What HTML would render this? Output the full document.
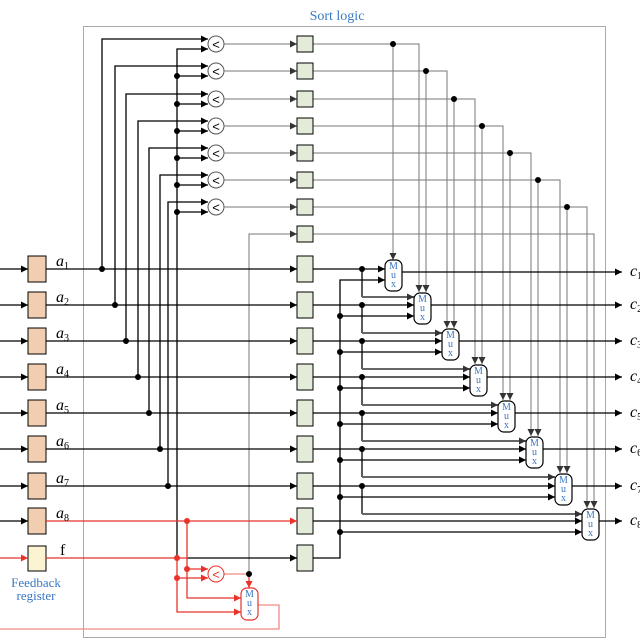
<!DOCTYPE html>
<html><head><meta charset="utf-8"><style>html,body{margin:0;padding:0;background:#fff}svg{display:block}</style></head>
<body>
<svg width="640" height="639" viewBox="0 0 640 639" xmlns="http://www.w3.org/2000/svg" font-family="Liberation Serif, serif">
<defs>
<marker id="a" markerUnits="userSpaceOnUse" markerWidth="8" markerHeight="8" refX="7" refY="4" orient="auto"><path d="M0,0.5 L7,4 L0,7.5z" fill="#000"/></marker>
<marker id="g" markerUnits="userSpaceOnUse" markerWidth="8" markerHeight="8" refX="7" refY="4" orient="auto"><path d="M0,0.5 L7,4 L0,7.5z" fill="#333"/></marker>
<marker id="r" markerUnits="userSpaceOnUse" markerWidth="8" markerHeight="8" refX="7" refY="4" orient="auto"><path d="M0,0.5 L7,4 L0,7.5z" fill="#e8322a"/></marker>
</defs>
<rect x="83.5" y="26.5" width="522" height="611" fill="none" stroke="#aaa"/>
<text x="337" y="20" font-size="14" fill="#3a78c2" text-anchor="middle">Sort logic</text>

<!-- comparator input lines -->
<g fill="none" stroke="#000" stroke-width="1.3">
<path d="M102,269V39H208" marker-end="url(#a)"/>
<path d="M115,305V66H208" marker-end="url(#a)"/>
<path d="M126,341V94H208" marker-end="url(#a)"/>
<path d="M138,377V121H208" marker-end="url(#a)"/>
<path d="M149,413V148H208" marker-end="url(#a)"/>
<path d="M160,449V175H208" marker-end="url(#a)"/>
<path d="M168,486V202H208" marker-end="url(#a)"/>
<path d="M177,558V49H208" marker-end="url(#a)"/>
<path d="M177,76H208" marker-end="url(#a)"/>
<path d="M177,104H208" marker-end="url(#a)"/>
<path d="M177,131H208" marker-end="url(#a)"/>
<path d="M177,158H208" marker-end="url(#a)"/>
<path d="M177,185H208" marker-end="url(#a)"/>
<path d="M177,212H208" marker-end="url(#a)"/>
</g>
<g fill="#000">
<circle cx="177" cy="76" r="3"/><circle cx="177" cy="104" r="3"/><circle cx="177" cy="131" r="3"/><circle cx="177" cy="158" r="3"/><circle cx="177" cy="185" r="3"/><circle cx="177" cy="212" r="3"/>
<circle cx="102" cy="269" r="3"/><circle cx="115" cy="305" r="3"/><circle cx="126" cy="341" r="3"/><circle cx="138" cy="377" r="3"/><circle cx="149" cy="413" r="3"/><circle cx="160" cy="449" r="3"/><circle cx="168" cy="486" r="3"/>
</g>

<!-- comparators -->
<g fill="#fff" stroke="#555" stroke-width="1">
<circle cx="216" cy="44" r="8"/><circle cx="216" cy="71" r="8"/><circle cx="216" cy="99" r="8"/><circle cx="216" cy="126" r="8"/><circle cx="216" cy="153" r="8"/><circle cx="216" cy="180" r="8"/><circle cx="216" cy="207" r="8"/>
</g>
<g font-size="13" text-anchor="middle" fill="#000" font-family="Liberation Sans, sans-serif">
<text x="216" y="49">&lt;</text><text x="216" y="76">&lt;</text><text x="216" y="104">&lt;</text><text x="216" y="131">&lt;</text><text x="216" y="158">&lt;</text><text x="216" y="185">&lt;</text><text x="216" y="212">&lt;</text>
</g>
<g fill="none" stroke="#777" stroke-width="1">
<path d="M224,44H297" marker-end="url(#g)"/><path d="M224,71H297" marker-end="url(#g)"/><path d="M224,99H297" marker-end="url(#g)"/><path d="M224,126H297" marker-end="url(#g)"/><path d="M224,153H297" marker-end="url(#g)"/><path d="M224,180H297" marker-end="url(#g)"/><path d="M224,207H297" marker-end="url(#g)"/>
<path d="M249,574V234H297" marker-end="url(#g)"/>
<!-- green outputs to muxes -->
<path d="M313,44H419V292" marker-end="url(#g)"/><path d="M393,44V260" marker-end="url(#g)"/>
<path d="M313,71H447V328" marker-end="url(#g)"/><path d="M426,71V292" marker-end="url(#g)"/>
<path d="M313,99H475V364" marker-end="url(#g)"/><path d="M454,99V328" marker-end="url(#g)"/>
<path d="M313,126H503V400" marker-end="url(#g)"/><path d="M482,126V364" marker-end="url(#g)"/>
<path d="M313,153H531V436" marker-end="url(#g)"/><path d="M510,153V400" marker-end="url(#g)"/>
<path d="M313,180H560V473" marker-end="url(#g)"/><path d="M538,180V436" marker-end="url(#g)"/>
<path d="M313,207H587V508" marker-end="url(#g)"/><path d="M567,207V473" marker-end="url(#g)"/>
<path d="M313,234H594V508" marker-end="url(#g)"/>
</g>
<g fill="#000">
<circle cx="393" cy="44" r="3"/><circle cx="426" cy="71" r="3"/><circle cx="454" cy="99" r="3"/><circle cx="482" cy="126" r="3"/><circle cx="510" cy="153" r="3"/><circle cx="538" cy="180" r="3"/><circle cx="567" cy="207" r="3"/>
</g>
<g fill="#e3ecd9" stroke="#000" stroke-width="1">
<rect x="297" y="36" width="16" height="16"/><rect x="297" y="63" width="16" height="16"/><rect x="297" y="91" width="16" height="16"/><rect x="297" y="118" width="16" height="16"/><rect x="297" y="145" width="16" height="16"/><rect x="297" y="172" width="16" height="16"/><rect x="297" y="199" width="16" height="16"/><rect x="297" y="226" width="16" height="16"/>
</g>

<!-- rows -->
<g fill="none" stroke="#000" stroke-width="1.3">
<path d="M0,269H28" marker-end="url(#a)"/><path d="M0,305H28" marker-end="url(#a)"/><path d="M0,341H28" marker-end="url(#a)"/><path d="M0,377H28" marker-end="url(#a)"/><path d="M0,413H28" marker-end="url(#a)"/><path d="M0,449H28" marker-end="url(#a)"/><path d="M0,486H28" marker-end="url(#a)"/><path d="M0,521H28" marker-end="url(#a)"/>
<path d="M46,269H297" marker-end="url(#a)"/><path d="M46,305H297" marker-end="url(#a)"/><path d="M46,341H297" marker-end="url(#a)"/><path d="M46,377H297" marker-end="url(#a)"/><path d="M46,413H297" marker-end="url(#a)"/><path d="M46,449H297" marker-end="url(#a)"/><path d="M46,486H297" marker-end="url(#a)"/>
<path d="M187,558H297" marker-end="url(#a)"/>
<!-- green to mux middle -->
<path d="M313,269H385" marker-end="url(#a)"/><path d="M313,305H414" marker-end="url(#a)"/><path d="M313,341H442" marker-end="url(#a)"/><path d="M313,377H470" marker-end="url(#a)"/><path d="M313,413H498" marker-end="url(#a)"/><path d="M313,449H526" marker-end="url(#a)"/><path d="M313,486H555" marker-end="url(#a)"/><path d="M313,521H582" marker-end="url(#a)"/>
<!-- f bus -->
<path d="M313,558H340V280H385" marker-end="url(#a)"/>
<path d="M340,316H414" marker-end="url(#a)"/><path d="M340,352H442" marker-end="url(#a)"/><path d="M340,388H470" marker-end="url(#a)"/><path d="M340,424H498" marker-end="url(#a)"/><path d="M340,460H526" marker-end="url(#a)"/><path d="M340,497H555" marker-end="url(#a)"/><path d="M340,532H582" marker-end="url(#a)"/>
<!-- mux outputs -->
<path d="M402,272H622" marker-end="url(#a)"/><path d="M431,305H622" marker-end="url(#a)"/><path d="M459,341H622" marker-end="url(#a)"/><path d="M487,377H622" marker-end="url(#a)"/><path d="M515,413H622" marker-end="url(#a)"/><path d="M543,449H622" marker-end="url(#a)"/><path d="M572,486H622" marker-end="url(#a)"/><path d="M599,521H622" marker-end="url(#a)"/>
<!-- row dots down to next mux -->
<path d="M362,269V297"/><path d="M362,305V333"/><path d="M362,341V369"/><path d="M362,377V405"/><path d="M362,413V441"/><path d="M362,449V477"/><path d="M362,486V514"/>
</g>
<g fill="none" stroke="#666" stroke-width="2">
<path d="M362,297H414" marker-end="url(#g)"/><path d="M362,333H442" marker-end="url(#g)"/><path d="M362,369H470" marker-end="url(#g)"/><path d="M362,405H498" marker-end="url(#g)"/><path d="M362,441H526" marker-end="url(#g)"/><path d="M362,477H555" marker-end="url(#g)"/><path d="M362,514H582" marker-end="url(#g)"/>
</g>
<g fill="#000">
<circle cx="362" cy="269" r="3"/><circle cx="362" cy="305" r="3"/><circle cx="362" cy="341" r="3"/><circle cx="362" cy="377" r="3"/><circle cx="362" cy="413" r="3"/><circle cx="362" cy="449" r="3"/><circle cx="362" cy="486" r="3"/>
<circle cx="340" cy="316" r="3"/><circle cx="340" cy="352" r="3"/><circle cx="340" cy="388" r="3"/><circle cx="340" cy="424" r="3"/><circle cx="340" cy="460" r="3"/><circle cx="340" cy="497" r="3"/><circle cx="340" cy="532" r="3"/>
</g>

<!-- registers -->
<g fill="#f2ceb0" stroke="#000" stroke-width="1">
<rect x="28" y="256" width="18" height="26"/><rect x="28" y="292" width="18" height="26"/><rect x="28" y="328" width="18" height="26"/><rect x="28" y="364" width="18" height="26"/><rect x="28" y="400" width="18" height="26"/><rect x="28" y="436" width="18" height="26"/><rect x="28" y="473" width="18" height="26"/><rect x="28" y="508" width="18" height="26"/>
</g>
<rect x="28" y="546" width="18" height="25" fill="#fbf3d2" stroke="#000"/>
<g fill="#e3ecd9" stroke="#000" stroke-width="1">
<rect x="297" y="256" width="16" height="26"/><rect x="297" y="292" width="16" height="26"/><rect x="297" y="328" width="16" height="26"/><rect x="297" y="364" width="16" height="26"/><rect x="297" y="400" width="16" height="26"/><rect x="297" y="436" width="16" height="26"/><rect x="297" y="473" width="16" height="26"/><rect x="297" y="508" width="16" height="26"/><rect x="297" y="545" width="16" height="26"/>
</g>

<!-- muxes -->
<g fill="#fff" stroke="#000" stroke-width="1.2">
<rect x="385" y="260" width="17" height="31" rx="6"/><rect x="414" y="293" width="17" height="31" rx="6"/><rect x="442" y="329" width="17" height="31" rx="6"/><rect x="470" y="365" width="17" height="31" rx="6"/><rect x="498" y="401" width="17" height="31" rx="6"/><rect x="526" y="437" width="17" height="31" rx="6"/><rect x="555" y="474" width="17" height="31" rx="6"/><rect x="582" y="509" width="17" height="31" rx="6"/>
</g>
<g font-size="10" fill="#3a78c2" text-anchor="middle">
<text x="393.5" y="269">M</text><text x="393.5" y="278">u</text><text x="393.5" y="287">x</text>
<text x="422.5" y="302">M</text><text x="422.5" y="311">u</text><text x="422.5" y="320">x</text>
<text x="450.5" y="338">M</text><text x="450.5" y="347">u</text><text x="450.5" y="356">x</text>
<text x="478.5" y="374">M</text><text x="478.5" y="383">u</text><text x="478.5" y="392">x</text>
<text x="506.5" y="410">M</text><text x="506.5" y="419">u</text><text x="506.5" y="428">x</text>
<text x="534.5" y="446">M</text><text x="534.5" y="455">u</text><text x="534.5" y="464">x</text>
<text x="563.5" y="483">M</text><text x="563.5" y="492">u</text><text x="563.5" y="501">x</text>
<text x="590.5" y="518">M</text><text x="590.5" y="527">u</text><text x="590.5" y="536">x</text>
<text x="249.5" y="597">M</text><text x="249.5" y="606">u</text><text x="249.5" y="615">x</text>
</g>

<!-- red section -->
<g fill="none" stroke="#e8322a" stroke-width="1.3">
<path d="M0,558H28" marker-end="url(#r)"/>
<path d="M46,558H187"/>
<path d="M46,521H297" marker-end="url(#r)"/>
<path d="M187,521V598H241" marker-end="url(#r)"/>
<path d="M187,569H208" marker-end="url(#r)"/>
<path d="M177,558V612H241" marker-end="url(#r)"/>
<path d="M177,578H208" marker-end="url(#r)"/>
<path d="M249,574V588" marker-end="url(#r)"/>
</g>
<g fill="none" stroke="#f08a84" stroke-width="1.3">
<path d="M224,574H249"/>
<path d="M258,605H279V629H0"/>
</g>
<circle cx="216" cy="574" r="8" fill="#fff" stroke="#e8322a"/>
<text x="216" y="579" font-size="13" text-anchor="middle" fill="#e8322a" font-family="Liberation Sans, sans-serif">&lt;</text>
<rect x="241" y="588" width="17" height="32" rx="6" fill="none" stroke="#e8322a" stroke-width="1.2"/>
<g fill="#e8322a"><circle cx="187" cy="521" r="3"/><circle cx="187" cy="569" r="3"/><circle cx="177" cy="558" r="3"/><circle cx="177" cy="578" r="3"/></g>
<circle cx="249" cy="574" r="3" fill="#000"/>
<g font-size="13" text-anchor="middle" fill="#3a78c2">
<text x="36" y="587">Feedback</text><text x="36" y="600">register</text>
</g>

<!-- labels -->
<g font-size="16" font-style="italic" fill="#000">
<text x="56" y="266">a<tspan font-size="10" font-style="normal" dy="3">1</tspan></text>
<text x="56" y="302">a<tspan font-size="10" font-style="normal" dy="3">2</tspan></text>
<text x="56" y="338">a<tspan font-size="10" font-style="normal" dy="3">3</tspan></text>
<text x="56" y="374">a<tspan font-size="10" font-style="normal" dy="3">4</tspan></text>
<text x="56" y="410">a<tspan font-size="10" font-style="normal" dy="3">5</tspan></text>
<text x="56" y="446">a<tspan font-size="10" font-style="normal" dy="3">6</tspan></text>
<text x="56" y="483">a<tspan font-size="10" font-style="normal" dy="3">7</tspan></text>
<text x="56" y="518">a<tspan font-size="10" font-style="normal" dy="3">8</tspan></text>
<text x="60" y="555" font-style="normal">f</text>
<text x="630" y="276">c<tspan font-size="10" font-style="normal" dy="3">1</tspan></text>
<text x="630" y="309">c<tspan font-size="10" font-style="normal" dy="3">2</tspan></text>
<text x="630" y="345">c<tspan font-size="10" font-style="normal" dy="3">3</tspan></text>
<text x="630" y="381">c<tspan font-size="10" font-style="normal" dy="3">4</tspan></text>
<text x="630" y="417">c<tspan font-size="10" font-style="normal" dy="3">5</tspan></text>
<text x="630" y="453">c<tspan font-size="10" font-style="normal" dy="3">6</tspan></text>
<text x="630" y="490">c<tspan font-size="10" font-style="normal" dy="3">7</tspan></text>
<text x="630" y="525">c<tspan font-size="10" font-style="normal" dy="3">8</tspan></text>
</g>
</svg>
</body></html>
